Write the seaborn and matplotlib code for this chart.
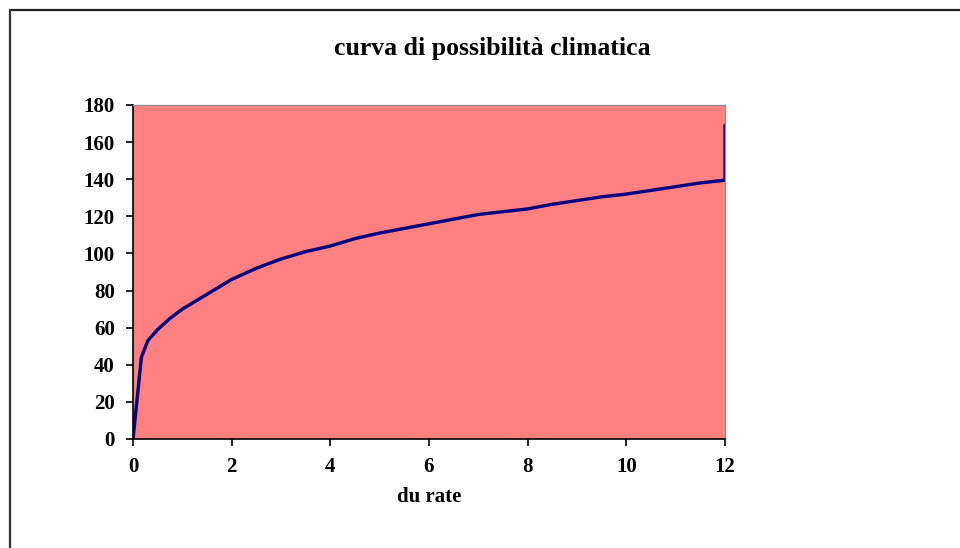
import matplotlib
matplotlib.use("Agg")
import matplotlib.pyplot as plt
import seaborn as sns
import pandas as pd
from matplotlib.lines import Line2D

# Data
durata = [0, 0.17, 0.3, 0.5, 0.75, 1, 1.25, 1.5, 1.75, 2, 2.5, 3, 3.5, 4, 4.5, 5, 5.5,
          6, 6.5, 7, 7.5, 8, 8.5, 9, 9.5, 10, 10.5, 11, 11.5, 12, 12]
altezza = [0, 44, 53, 59, 65, 70, 74, 78, 82, 86, 92, 97, 101, 104, 108, 111, 113.5,
           116, 118.5, 121, 122.5, 124, 126.5, 128.5, 130.5, 132, 134, 136, 138, 139.5, 169]
x_ticks = [0, 2, 4, 6, 8, 10, 12]
y_ticks = [0, 20, 40, 60, 80, 100, 120, 140, 160, 180]
title = "curva di possibilità climatica"
x_label = "du rate"

df = pd.DataFrame({"durata": durata, "altezza": altezza})

sns.set_style("white")
plt.rcParams['font.family'] = ['Liberation Serif', 'DejaVu Serif']
plt.rcParams['font.weight'] = 'bold'
plt.rcParams['text.color'] = 'black'
plt.rcParams['axes.labelcolor'] = 'black'
plt.rcParams['xtick.color'] = 'black'
plt.rcParams['ytick.color'] = 'black'

fig = plt.figure(figsize=(9.6, 5.48), dpi=100)
fig.patch.set_facecolor("white")
ax = fig.add_axes([133/960, 1-439/548, (725-133)/960, (439-105)/548])
ax.set_facecolor("#FF8080")

sns.lineplot(data=df, x="durata", y="altezza", ax=ax, estimator=None, sort=False,
             color="#000080", linewidth=2.4)

ax.set_xlim(0, 12)
ax.set_ylim(0, 180)
ax.set_xticks(x_ticks)
ax.set_yticks(y_ticks)
ax.set_xticklabels([str(v) for v in x_ticks], fontsize=15, fontweight='bold')
ax.set_yticklabels([str(v) for v in y_ticks], fontsize=15, fontweight='bold')
ax.tick_params(axis='both', direction='out', length=5, width=1.2, color='black',
               bottom=True, left=True)
ax.tick_params(axis='x', pad=8)
ax.tick_params(axis='y', pad=8)
ax.set_xlabel(x_label, fontsize=15, fontweight='bold', labelpad=7)
ax.set_ylabel("")

for side in ["left", "bottom"]:
    ax.spines[side].set_color("black")
    ax.spines[side].set_linewidth(1.2)
for side in ["top", "right"]:
    ax.spines[side].set_color("#909090")
    ax.spines[side].set_linewidth(1.0)

fig.text(492/960, 1-48/548, title, ha='center', va='center', fontsize=18.5, fontweight='bold')

# outer chart border (top and left visible)
fig.add_artist(Line2D([10/960, 1], [1-10/548, 1-10/548], transform=fig.transFigure,
                      color="#222222", linewidth=1.6))
fig.add_artist(Line2D([10/960, 10/960], [0, 1-10/548], transform=fig.transFigure,
                      color="#333333", linewidth=1.6))

fig.savefig("out.png", dpi=100)
